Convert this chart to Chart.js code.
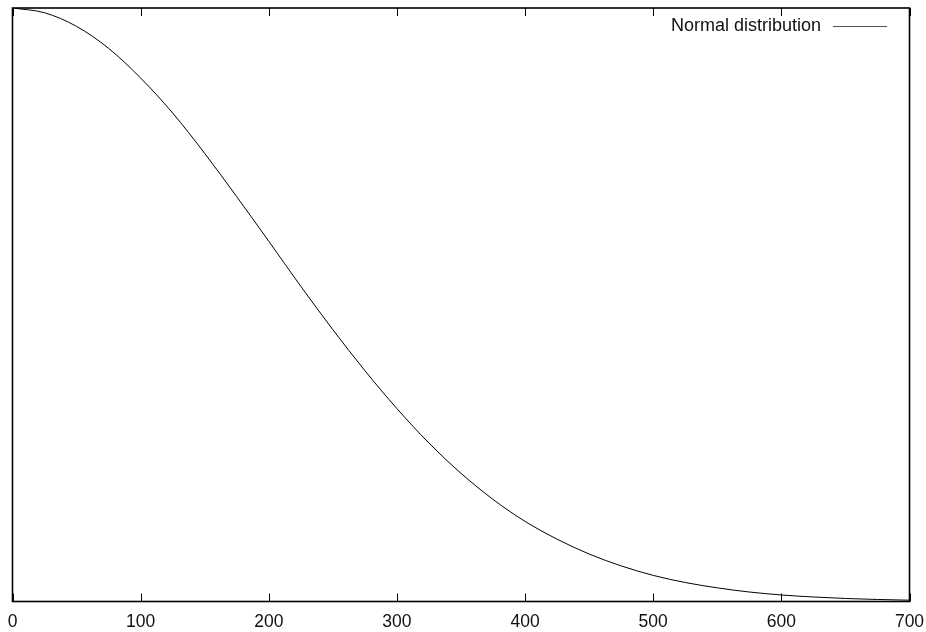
<!DOCTYPE html>
<html>
<head>
<meta charset="utf-8">
<script src="https://cdn.jsdelivr.net/npm/chart.js@4/dist/chart.umd.min.js"></script>
<style>
    html, body { margin: 0; padding: 0; background: #ffffff; }
    #wrap { width: 926px; height: 632px; }
</style>
</head>
<body>
<div id="wrap"><canvas id="chartCanvas" width="926" height="632"></canvas></div>
<script>
// Values (x position, height relative to the peak)
const xValues = [0, 25, 50, 75, 100, 125, 150, 175, 200, 225, 250, 275, 300, 325,
    350, 375, 400, 425, 450, 475, 500, 525, 550, 575, 600, 625, 650, 675, 700];
const yValues = [1.000, 0.992, 0.969, 0.932, 0.882, 0.823, 0.755, 0.682, 0.607, 0.531,
    0.458, 0.389, 0.325, 0.267, 0.216, 0.172, 0.135, 0.105, 0.080, 0.060,
    0.044, 0.032, 0.023, 0.016, 0.011, 0.0076, 0.0051, 0.0034, 0.0022];
const xTicks = [0, 100, 200, 300, 400, 500, 600, 700];
const seriesLabel = "Normal distribution";

const FONT = "'Liberation Sans', Arial, Helvetica, sans-serif";

// Frame, inward tick marks (top + bottom) and gnuplot style key
const gnuplotFrame = {
    id: 'gnuplotFrame',
    afterDraw(chart) {
        const ctx = chart.ctx;
        const area = chart.chartArea;
        const xScale = chart.scales.x;

        ctx.save();
        ctx.strokeStyle = '#000';
        ctx.lineWidth = 1;
        xTicks.forEach((v) => {
            const px = Math.round(xScale.getPixelForValue(v)) + 0.5;
            ctx.beginPath();
            ctx.moveTo(px, area.bottom);
            ctx.lineTo(px, area.bottom - 8);
            ctx.moveTo(px, area.top);
            ctx.lineTo(px, area.top + 8);
            ctx.stroke();
        });

        ctx.lineWidth = 1.6;
        ctx.strokeRect(area.left, area.top, area.right - area.left, area.bottom - area.top);

        // key
        const ds = chart.data.datasets[0];
        const ky = area.top + 18;
        ctx.font = '18px ' + FONT;
        ctx.fillStyle = '#111';
        ctx.textAlign = 'right';
        ctx.textBaseline = 'middle';
        ctx.fillText(ds.label, 821, ky);
        ctx.strokeStyle = '#555';
        ctx.lineWidth = 1;
        ctx.beginPath();
        ctx.moveTo(833, ky + 0.5);
        ctx.lineTo(887, ky + 0.5);
        ctx.stroke();
        ctx.restore();
    }
};

const ctx = document.getElementById('chartCanvas').getContext('2d');

const config = {
    type: 'line',
    data: {
        datasets: [{
            label: seriesLabel,
            data: xValues.map((x, i) => ({ x: x, y: yValues[i] })),
            borderColor: '#000',
            borderWidth: 1,
            pointRadius: 0,
            fill: false,
            cubicInterpolationMode: 'monotone'
        }]
    },
    options: {
        responsive: false,
        animation: false,
        devicePixelRatio: 1,
        layout: {
            padding: { left: 12.5, right: 16.5, top: 8, bottom: 0 }
        },
        plugins: {
            legend: { display: false },
            tooltip: { enabled: false }
        },
        scales: {
            x: {
                type: 'linear',
                min: 0,
                max: 700,
                afterBuildTicks: (scale) => {
                    scale.ticks = xTicks.map(v => ({ value: v }));
                },
                afterFit: (scale) => {
                    scale.height = 30.5;
                    // labels are allowed to hang over the edges
                    scale.paddingLeft = 0;
                    scale.paddingRight = 0;
                },
                grid: { display: false, drawTicks: false },
                border: { display: false },
                ticks: {
                    color: '#111',
                    padding: 10,
                    maxRotation: 0,
                    autoSkip: false,
                    font: { family: FONT, size: 17.5 }
                }
            },
            y: {
                display: false,
                min: 0,
                max: 1
            }
        }
    },
    plugins: [gnuplotFrame]
};

const chart = new Chart(ctx, config);
</script>
</body>
</html>
